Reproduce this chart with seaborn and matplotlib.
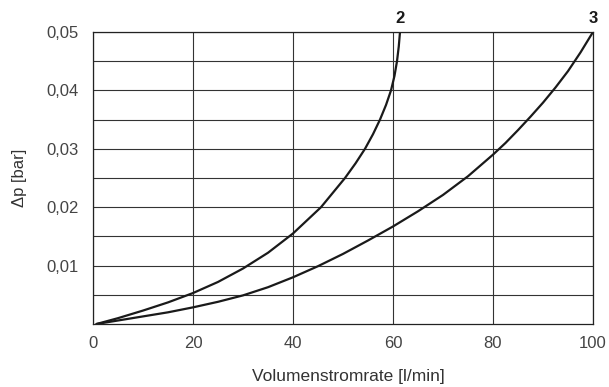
import matplotlib
matplotlib.use("Agg")
import matplotlib.pyplot as plt
import seaborn as sns
import pandas as pd
import numpy as np

# Curve 2
x2 = [0.7, 5, 10, 15, 20, 25, 30, 35, 40, 45.6, 50.4, 52.5, 54.4, 56.0, 57.4, 58.6, 59.6, 60.3, 60.8, 61.15, 61.4]
y2 = [0.0, 0.0010, 0.0023, 0.0037, 0.0053, 0.0072, 0.0095, 0.0122, 0.0155, 0.020, 0.025, 0.0275, 0.030, 0.0325, 0.035, 0.0375, 0.040, 0.0425, 0.045, 0.0475, 0.050]
# Curve 3
x3 = [0.7, 5, 10, 15, 20, 25, 30, 35, 40, 45, 50, 55, 60, 65, 70, 75, 80, 82.5, 85, 87.5, 90, 92.5, 95, 97.5, 100]
y3 = [0.0, 0.0006, 0.0013, 0.0020, 0.00285, 0.0038, 0.0049, 0.0063, 0.0080, 0.0099, 0.0120, 0.0143, 0.0167, 0.0193, 0.0221, 0.0253, 0.0290, 0.0310, 0.0332, 0.0355, 0.0379, 0.0405, 0.0433, 0.0465, 0.050]
curve_labels = ["2", "3"]

x_ticks = [0, 20, 40, 60, 80, 100]
y_ticks = [0.01, 0.02, 0.03, 0.04, 0.05]
y_ticklabels = ["0,01", "0,02", "0,03", "0,04", "0,05"]

df = pd.concat([
    pd.DataFrame({"x": x2, "y": y2, "curve": curve_labels[0]}),
    pd.DataFrame({"x": x3, "y": y3, "curve": curve_labels[1]}),
])

sns.set_style("white")
plt.rcParams['font.family'] = ['Liberation Sans', 'DejaVu Sans']

fig = plt.figure(figsize=(6.09, 3.87), dpi=100)
ax = fig.add_axes([93/609, 1-324/387, 500/609, 292/387])

sns.lineplot(data=df, x="x", y="y", units="curve", estimator=None, sort=False,
             color="#1a1a1a", linewidth=1.6, ax=ax, legend=False,
             solid_joinstyle="round", solid_capstyle="round")

ax.set_xlim(0, 100)
ax.set_ylim(0, 0.05)
ax.set_xticks(x_ticks)
ax.set_xticklabels([str(v) for v in x_ticks])
ax.set_yticks(y_ticks)
ax.set_yticklabels(y_ticklabels)
ax.set_yticks(np.arange(0.005, 0.05, 0.01), minor=True)
ax.grid(True, which="both", color="#333333", linewidth=0.8)
ax.tick_params(axis="both", which="both", length=0, labelsize=12, colors="#444444")
ax.tick_params(axis="y", pad=10)
ax.tick_params(axis="x", pad=9)
for s in ax.spines.values():
    s.set_color("#222222")
    s.set_linewidth(0.9)

ax.set_xlabel("Volumenstromrate [l/min]", fontsize=12.5, color="#333333", labelpad=12)
ax.xaxis.set_label_coords(0.511, -0.155)
ax.set_ylabel("Δp [bar]", fontsize=12, color="#333333", labelpad=14)

ax.text(x2[-1], 0.0511, curve_labels[0], ha="center", va="bottom", fontsize=12,
        fontweight="bold", color="#1a1a1a", clip_on=False)
ax.text(x3[-1], 0.0511, curve_labels[1], ha="center", va="bottom", fontsize=12,
        fontweight="bold", color="#1a1a1a", clip_on=False)

fig.savefig("out.png", dpi=100)
